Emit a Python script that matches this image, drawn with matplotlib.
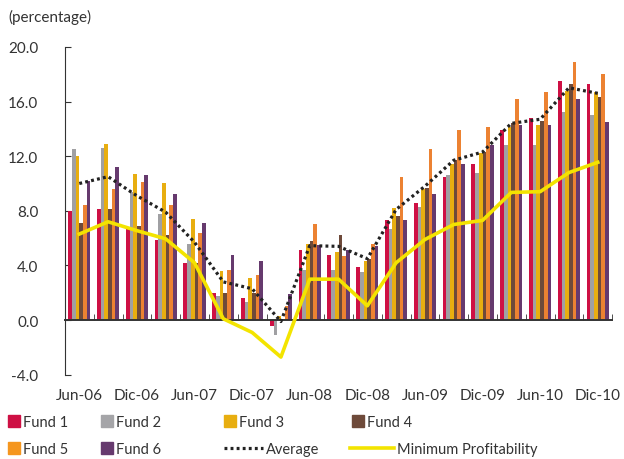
import numpy as np
import matplotlib.pyplot as plt
from matplotlib.patches import Patch
from matplotlib.lines import Line2D

plt.rcParams['font.family'] = ['Lato', 'DejaVu Sans']
plt.rcParams['axes.unicode_minus'] = False

# quarterly data, Jun-06 .. Dic-10
fund1 = [8.0, 8.1, 6.7, 5.9, 4.2, 2.0, 1.6, -0.4, 5.1, 4.8, 3.9, 7.3, 8.6, 10.5, 11.4, 13.9, 14.8, 17.5, 17.3]
fund2 = [12.5, 12.6, 9.4, 7.8, 5.6, 1.8, 1.3, -1.1, 3.7, 3.7, 3.5, 6.7, 8.3, 10.6, 10.8, 12.8, 12.8, 15.2, 15.0]
fund3 = [12.0, 12.9, 10.7, 10.0, 7.4, 3.6, 3.1, 0.3, 5.6, 5.0, 4.3, 8.2, 9.6, 11.4, 12.2, 14.1, 14.3, 16.8, 16.7]
fund4 = [7.1, 8.1, 6.9, 6.2, 4.2, 2.0, 2.0, 0.1, 5.8, 6.2, 4.5, 7.6, 9.7, 11.7, 12.3, 14.4, 14.6, 17.3, 16.3]
fund5 = [8.4, 9.6, 10.1, 8.4, 6.4, 3.7, 3.3, 1.0, 7.0, 4.7, 5.6, 10.5, 12.5, 13.9, 14.1, 16.2, 16.7, 18.9, 18.0]
fund6 = [10.2, 11.2, 10.6, 9.2, 7.1, 4.8, 4.3, 1.9, 5.5, 5.1, 5.4, 7.3, 9.2, 11.4, 12.8, 14.3, 14.3, 16.2, 14.5]
average = [10.0, 10.5, 9.1, 7.9, 5.7, 2.8, 2.3, -0.1, 5.45, 5.4, 4.5, 8.1, 9.8, 11.7, 12.3, 14.4, 14.7, 17.0, 16.6]
min_profit = [6.3, 7.2, 6.55, 5.95, 4.2, 0.1, -0.9, -2.7, 3.0, 3.0, 1.05, 4.2, 5.9, 7.0, 7.3, 9.35, 9.4, 10.8, 11.55]
xlabels = ['Jun-06', 'Dic-06', 'Jun-07', 'Dic-07', 'Jun-08', 'Dic-08', 'Jun-09', 'Dic-09', 'Jun-10', 'Dic-10']

funds = [fund1, fund2, fund3, fund4, fund5, fund6]
names = ['Fund 1', 'Fund 2', 'Fund 3', 'Fund 4', 'Fund 5', 'Fund 6']
colors = ['#CE1044', '#A0A0A3', '#E8AE10', '#6E4A3A', '#EC8232', '#663A6E']
legend_colors = ['#CE1044', '#A5A5A8', '#E8AE10', '#6E4A3A', '#F5961E', '#663A6E']
avg_style = dict(color='#222222', lw=2.3, linestyle=(0, (0.9, 1.0)))
min_style = dict(color='#F3E400', lw=2.6)

fig = plt.figure(figsize=(6.24, 4.6), dpi=100)
ax = fig.add_axes([0.104, 0.183, 0.877, 0.713])

x = np.arange(len(fund1))
w = 0.128
for k, (vals, c) in enumerate(zip(funds, colors)):
    ax.bar(x + (k - 2.5) * w, vals, width=w, color=c, linewidth=0, zorder=2)

ax.plot(x, average, zorder=4, **avg_style)
ax.plot(x, min_profit, zorder=3, **min_style)

ax.set_xlim(-0.5, len(x) - 0.5)
ax.set_ylim(-4, 20)
ax.set_yticks(np.arange(-4, 21, 4))
ax.set_yticklabels(['%.1f' % v for v in np.arange(-4, 21, 4)], fontsize=11, color='#333333')
ax.tick_params(axis='y', direction='in', length=4, pad=19, color='#333333')

ax.spines['top'].set_visible(False)
ax.spines['right'].set_visible(False)
ax.spines['left'].set_color('#333333')
ax.spines['bottom'].set_position(('data', 0))
ax.spines['bottom'].set_color('#333333')
ax.spines['bottom'].set_linewidth(1.4)

ax.set_xticks(x[::2])
ax.set_xticklabels(xlabels, fontsize=11, color='#333333')
ax.set_xticks(list(x[:-1] + 0.5) + [len(x) - 0.5], minor=True)
ax.tick_params(axis='x', which='major', length=0, pad=49)
ax.tick_params(axis='x', which='minor', direction='in', length=4, color='#333333')

fig.text(8 / 624, 1 - 17 / 460, '(percentage)', fontsize=11, color='#333333', va='center')


# legend: one small legend per entry, laid out in a 4 x 2 grid
def add_entry(handle, label, px, py, hl):
    fig.legend([handle], [label], loc='center left', bbox_to_anchor=(px / 624, 1 - py / 460),
               frameon=False, fontsize=10.5, handlelength=hl, handleheight=0.8,
               handletextpad=0.25, borderaxespad=0, borderpad=0, labelcolor='#333333')


bars = [Patch(color=c) for c in legend_colors]
add_entry(bars[0], 'Fund 1', 8, 423, 0.8)
add_entry(bars[1], 'Fund 2', 101, 423, 0.8)
add_entry(bars[2], 'Fund 3', 224, 423, 0.8)
add_entry(bars[3], 'Fund 4', 352, 423, 0.8)
add_entry(bars[4], 'Fund 5', 8, 450, 0.8)
add_entry(bars[5], 'Fund 6', 101, 450, 0.8)
add_entry(Line2D([], [], **avg_style), 'Average', 224, 450, 2.65)
add_entry(Line2D([], [], **min_style), 'Minimum Profitability', 350, 450, 3.0)

fig.savefig('out.png', dpi=100)
